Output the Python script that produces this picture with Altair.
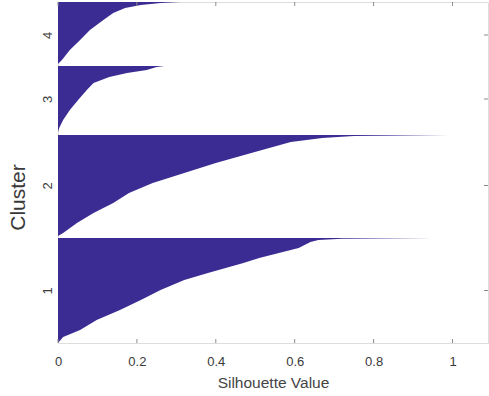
import altair as alt
import pandas as pd

# Silhouette values per cluster, sorted; rows are observation positions (from bottom of each cluster)
c1_rows = [0, 6, 13, 23, 33, 43, 53, 63, 70, 80, 85, 95, 101, 103, 104.3, 105]
c1_vals = [0.0, 0.013, 0.056, 0.098, 0.157, 0.21, 0.26, 0.32, 0.38, 0.47, 0.51, 0.61, 0.64, 0.66, 0.72, 0.95]

c2_rows = [0, 3, 13, 23, 33, 43, 53, 63, 73, 83, 94, 98, 100, 101]
c2_vals = [0.0, 0.013, 0.048, 0.09, 0.14, 0.18, 0.24, 0.32, 0.40, 0.49, 0.59, 0.67, 0.75, 0.99]

c3_rows = [0, 4, 12, 22, 32, 42, 49, 55, 59, 62, 65, 66]
c3_vals = [0.0, 0.003, 0.013, 0.03, 0.051, 0.073, 0.09, 0.13, 0.175, 0.225, 0.25, 0.27]

c4_rows = [0, 4, 14, 24, 34, 44, 51, 56, 59, 61, 62]
c4_vals = [0.0, 0.01, 0.03, 0.056, 0.081, 0.115, 0.14, 0.17, 0.21, 0.26, 0.31]

# first row of each cluster block on the shared vertical axis
cluster_start = [0, 107, 211, 279]
cluster_names = ["1", "2", "3", "4"]
cluster_tick_pos = [52.5, 157.5, 244, 308]

x_ticks = [0, 0.2, 0.4, 0.6, 0.8, 1.0]
x_max = 1.09
y_max = 341

fill_color = "#3b2c94"
frame_color = "#8c8c8c"
text_color = "#3a3a3a"
font = "Liberation Sans"

records = []
for name, start, rows, vals in zip(
    cluster_names, cluster_start,
    [c1_rows, c2_rows, c3_rows, c4_rows],
    [c1_vals, c2_vals, c3_vals, c4_vals],
):
    for r, v in zip(rows, vals):
        records.append({"cluster": name, "row": start + r, "sil": v, "base": 0.0})
df = pd.DataFrame(records)

x_scale = alt.Scale(domain=[0, x_max], nice=False, zero=True)
y_scale = alt.Scale(domain=[0, y_max], nice=False, zero=True)

label_expr = " : ".join(
    f"datum.value < {p + 1} ? '{n}'" for p, n in zip(cluster_tick_pos[:-1], cluster_names[:-1])
) + f" : '{cluster_names[-1]}'"

areas = alt.Chart(df).mark_area(
    orient="horizontal", color=fill_color, interpolate="linear", clip=True
).encode(
    y=alt.Y(
        "row:Q", scale=y_scale,
        axis=alt.Axis(
            values=cluster_tick_pos, labelExpr=label_expr, title="Cluster",
            ticks=False, tickSize=0, domain=False, grid=False,
            labelAngle=270, labelAlign="center", labelBaseline="bottom",
            labelPadding=4, labelFontSize=13, labelFont=font, labelColor=text_color,
            titleFont=font, titleFontSize=21, titleFontWeight="normal", titleColor=text_color,
            titleAngle=270, titleAlign="center", titleBaseline="middle",
            titleX=-40, titleY=195,
        ),
    ),
    x=alt.X(
        "sil:Q", scale=x_scale, stack=None,
        axis=alt.Axis(
            values=x_ticks, format="~g", title="Silhouette Value",
            ticks=False, tickSize=0, domain=False, grid=False, labelFlush=False,
            labelPadding=12, labelFontSize=13, labelFont=font, labelColor=text_color,
            titleFont=font, titleFontSize=15.5, titleFontWeight="normal", titleColor="#444444",
            titlePadding=7,
        ),
    ),
    x2="base:Q",
    detail="cluster:N",
)

xt = pd.DataFrame({"v": x_ticks})
yt = pd.DataFrame({"v": cluster_tick_pos})

tick_style = dict(color=frame_color, strokeWidth=1)
bottom_ticks = alt.Chart(xt).mark_rule(**tick_style).encode(
    x=alt.X("v:Q", scale=x_scale), y=alt.value(y_max), y2=alt.value(y_max - 4)
)
top_ticks = alt.Chart(xt).mark_rule(**tick_style).encode(
    x=alt.X("v:Q", scale=x_scale), y=alt.value(0), y2=alt.value(4)
)
right_ticks = alt.Chart(yt).mark_rule(**tick_style).encode(
    y=alt.Y("v:Q", scale=y_scale), x=alt.value(430), x2=alt.value(426)
)

chart = alt.layer(areas, bottom_ticks, top_ticks, right_ticks).properties(
    width=430, height=341,
    autosize=alt.AutoSizeParams(type="none"),
    padding={"left": 58, "top": 2, "right": 1, "bottom": 53},
).configure_view(
    stroke=frame_color, strokeWidth=1
).configure(background="white")

chart.save("out.html", embed_options={"renderer": "svg", "actions": False})
